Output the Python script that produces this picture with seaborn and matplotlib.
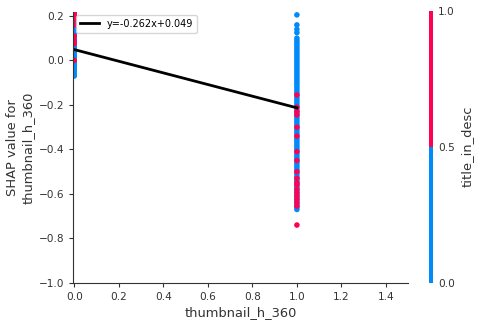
import matplotlib
matplotlib.use("Agg")
import matplotlib.pyplot as plt
import seaborn as sns
import numpy as np
import pandas as pd
from matplotlib.colors import ListedColormap, Normalize
from matplotlib.cm import ScalarMappable

# ---- data ----
x0_blue = [0.20, 0.19, 0.18, 0.17, 0.16, 0.15, 0.14, 0.13, 0.12, 0.11, 0.10, 0.09,
           0.08, 0.07, 0.06, 0.05, 0.04, 0.03, 0.02, 0.01, 0.00, -0.01, -0.02,
           -0.03, -0.04, -0.05, -0.06, -0.07]
x0_red = [0.215, 0.205, 0.195, 0.185, 0.16, 0.11, 0.09, 0.075, 0.0]
x1_blue = [0.205, 0.16, 0.14, 0.125,
           0.10, 0.09, 0.08, 0.07, 0.06, 0.05, 0.04, 0.03, 0.02, 0.01, 0.00,
           -0.01, -0.02, -0.03, -0.04, -0.05, -0.06, -0.07, -0.08, -0.09, -0.10,
           -0.11, -0.12, -0.13, -0.14, -0.15, -0.16, -0.17, -0.18, -0.19, -0.20,
           -0.21, -0.22, -0.23, -0.24, -0.25, -0.26, -0.27, -0.28, -0.29, -0.30,
           -0.31, -0.32, -0.33, -0.34, -0.35, -0.36, -0.37, -0.38, -0.39, -0.40,
           -0.41, -0.42, -0.43, -0.44, -0.45, -0.46, -0.47, -0.48, -0.49, -0.50,
           -0.51, -0.52, -0.53, -0.54, -0.55, -0.56, -0.57, -0.58, -0.59, -0.60,
           -0.61, -0.62, -0.63, -0.64, -0.65, -0.66, -0.67]
x1_red = [-0.155, -0.21, -0.23, -0.245, -0.30, -0.34, -0.41, -0.45, -0.50, -0.53,
          -0.55, -0.56, -0.58, -0.595, -0.61, -0.625, -0.64, -0.655, -0.74]
slope = -0.262
intercept = 0.049
line_x = [0.0, 1.0]
cbar_ticks = [0.0, 0.5, 1.0]

BLUE = "#008bfb"
RED = "#ff0052"

df = pd.DataFrame({
    "x": [0.0] * len(x0_blue) + [1.0] * len(x1_blue) + [0.0] * len(x0_red) + [1.0] * len(x1_red),
    "y": x0_blue + x1_blue + x0_red + x1_red,
    "c": [0] * (len(x0_blue) + len(x1_blue)) + [1] * (len(x0_red) + len(x1_red)),
})
line_df = pd.DataFrame({"x": line_x, "y": [slope * v + intercept for v in line_x]})

plt.rcParams["font.family"] = ["DejaVu Sans"]
fig = plt.figure(figsize=(4.78, 3.24), dpi=100)
ax = fig.add_axes([0.153, 0.127, 0.701, 0.836])
cax = fig.add_axes([0.897, 0.127, 0.009, 0.84])

sns.scatterplot(data=df, x="x", y="y", hue="c", palette={0: BLUE, 1: RED},
                s=16, linewidth=0, legend=False, ax=ax)
sns.lineplot(data=line_df, x="x", y="y", color="black", lw=2,
             label=f"y={slope}x+{intercept}", ax=ax)

ax.set_xlim(-0.005, 1.5)
ax.set_ylim(-1.0, 0.218)
ax.set_xticks([0.0, 0.2, 0.4, 0.6, 0.8, 1.0, 1.2, 1.4])
ax.set_yticks([-1.0, -0.8, -0.6, -0.4, -0.2, 0.0, 0.2])
ax.set_xlabel("thumbnail_h_360", fontsize=9.4, color="#333333", labelpad=3)
ax.set_ylabel("SHAP value for\nthumbnail_h_360", fontsize=9.4, color="#333333", labelpad=3)
ax.tick_params(labelsize=7.6, colors="#333333", length=3)
for s in ["top", "right"]:
    ax.spines[s].set_visible(False)
for s in ["left", "bottom"]:
    ax.spines[s].set_color("#333333")
ax.legend(loc="upper left", fontsize=7, borderaxespad=0.3)

sm = ScalarMappable(norm=Normalize(0, 1), cmap=ListedColormap([BLUE, RED]))
cb = fig.colorbar(sm, cax=cax, ticks=cbar_ticks)
cb.outline.set_visible(False)
cb.ax.tick_params(length=0, labelsize=7.6, colors="#333333")
cb.set_label("title_in_desc", fontsize=9.4, color="#333333", labelpad=4)

fig.savefig("out.png", dpi=100)
